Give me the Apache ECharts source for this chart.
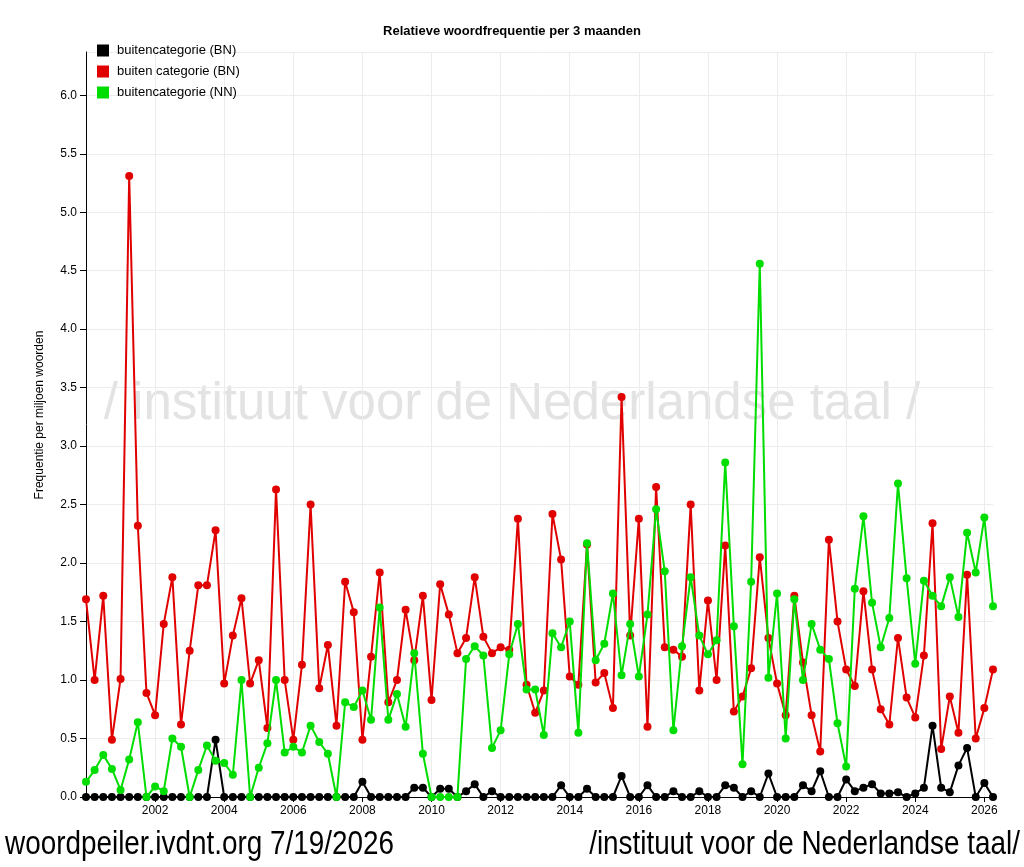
<!DOCTYPE html>
<html>
<head>
<meta charset="utf-8">
<script src="https://cdn.jsdelivr.net/npm/echarts@6/dist/echarts.min.js"></script>
<style>
html,body{margin:0;padding:0;background:#fff;}
#chart{width:1024px;height:867px;}
</style>
</head>
<body>
<div id="chart"></div>
<script>
// Quarters 2000-Q1 .. 2026-Q2
const startYear = 2000;
const quarterCount = 106;
const quarters = [];
for (let i = 0; i < quarterCount; i++) {
  quarters.push((startYear + Math.floor(i / 4)) + '-Q' + (i % 4 + 1));
}

const seriesNames = ['buitencategorie (BN)', 'buiten categorie (BN)', 'buitencategorie (NN)'];

const blackBN = [
  0,0,0,0,0,0,0,0, 0,0,0,0,0,0,0,0.49,
  0,0,0,0,0,0,0,0, 0,0,0,0,0,0,0,0,
  0.13,0,0,0,0,0,0.08,0.08, 0,0.07,0.07,0,0.05,0.11,0,0.05,
  0,0,0,0,0,0,0,0.10, 0,0,0.07,0,0,0,0.18,0,
  0,0.10,0,0,0.05,0,0,0.05, 0,0,0.10,0.08,0,0.05,0,0.20,
  0,0,0,0.10,0.05,0.22,0,0, 0.15,0.05,0.08,0.11,0.03,0.03,0.04,0,
  0.03,0.08,0.61,0.08,0.04,0.27,0.42,0, 0.12,0
];

const redBN = [
  1.69,1.00,1.72,0.49,1.01,5.31,2.32,0.89, 0.70,1.48,1.88,0.62,1.25,1.81,1.81,2.28,
  0.97,1.38,1.70,0.97,1.17,0.59,2.63,1.00, 0.49,1.13,2.50,0.93,1.30,0.61,1.84,1.58,
  0.49,1.20,1.92,0.81,1.00,1.60,1.17,1.72, 0.83,1.82,1.56,1.23,1.36,1.88,1.37,1.23,
  1.28,1.26,2.38,0.96,0.72,0.91,2.42,2.03, 1.03,0.96,2.16,0.98,1.06,0.76,3.42,1.38,
  2.38,0.60,2.65,1.28,1.26,1.20,2.50,0.91, 1.68,1.00,2.15,0.73,0.86,1.10,2.05,1.36,
  0.97,0.70,1.72,1.15,0.70,0.39,2.20,1.50, 1.09,0.95,1.76,1.09,0.75,0.62,1.36,0.85,
  0.68,1.21,2.34,0.41,0.86,0.55,1.90,0.50, 0.76,1.09
];

const greenNN = [
  0.13,0.23,0.36,0.24,0.06,0.32,0.64,0, 0.09,0.05,0.50,0.43,0,0.23,0.44,0.31,
  0.29,0.19,1.00,0,0.25,0.46,1.00,0.38, 0.43,0.38,0.61,0.47,0.37,0,0.81,0.77,
  0.91,0.66,1.62,0.66,0.88,0.60,1.23,0.37, 0,0,0,0,1.18,1.29,1.21,0.42,
  0.57,1.22,1.48,0.92,0.92,0.53,1.40,1.28, 1.50,0.55,2.17,1.17,1.31,1.74,1.04,1.48,
  1.03,1.56,2.46,1.93,0.57,1.29,1.88,1.38, 1.22,1.34,2.86,1.46,0.28,1.84,4.56,1.02,
  1.74,0.50,1.69,1.00,1.48,1.26,1.18,0.63, 0.26,1.78,2.40,1.66,1.28,1.53,2.68,1.87,
  1.14,1.85,1.72,1.63,1.88,1.54,2.26,1.92, 2.39,1.63
];

const yTicks = { min: 0, max: 6.37, step: 0.5 };
const colors = ['#000000', '#e00000', '#00dd00'];

function isTickIndex(i) {
  const y = startYear + Math.floor(i / 4);
  return i % 4 === 0 && y % 2 === 0 && y > startYear;
}

const chart = echarts.init(document.getElementById('chart'), null, { renderer: 'canvas' });
const FONT = '"Liberation Sans", Arial, sans-serif';

const series = [blackBN, redBN, greenNN].map((d, k) => ({
  name: seriesNames[k],
  type: 'line',
  data: d,
  symbol: 'circle',
  symbolSize: 8,
  showSymbol: true,
  showAllSymbol: true,
  color: colors[k],
  lineStyle: { width: 2, color: colors[k] },
  itemStyle: { color: colors[k] },
  z: 3 + k,
  animation: false
}));

chart.setOption({
  animation: false,
  backgroundColor: '#ffffff',
  textStyle: { fontFamily: FONT },
  title: {
    text: 'Relatieve woordfrequentie per 3 maanden',
    left: 'center',
    top: 20,
    textStyle: { fontSize: 13, fontWeight: 'bold', color: '#000', fontFamily: FONT }
  },
  legend: {
    orient: 'vertical',
    left: 92,
    top: 39,
    itemWidth: 12,
    itemHeight: 12,
    itemGap: 8,
    icon: 'rect',
    data: seriesNames,
    textStyle: { fontSize: 13, color: '#000', fontFamily: FONT, padding: [0, 0, 0, 3] }
  },
  grid: { left: 86, right: 31, top: 52, bottom: 70, containLabel: false },
  xAxis: {
    type: 'category',
    data: quarters,
    boundaryGap: false,
    axisLine: { lineStyle: { color: '#000', width: 1 } },
    axisTick: { show: true, interval: (i) => isTickIndex(i), length: 5, lineStyle: { color: '#000' } },
    axisLabel: {
      interval: (i) => isTickIndex(i),
      formatter: (v) => v.slice(0, 4),
      fontSize: 12, color: '#000', margin: 8, fontFamily: FONT
    },
    splitLine: { show: true, interval: (i) => isTickIndex(i), lineStyle: { color: '#ececec', width: 1 } }
  },
  yAxis: {
    type: 'value',
    min: yTicks.min,
    max: yTicks.max,
    interval: yTicks.step,
    axisLine: { show: true, lineStyle: { color: '#000', width: 1 } },
    axisTick: { show: true, length: 6, lineStyle: { color: '#000' } },
    axisLabel: {
      formatter: (v) => v.toFixed(1), fontSize: 12, color: '#000', margin: 9,
      showMaxLabel: false, fontFamily: FONT
    },
    splitLine: { show: true, lineStyle: { color: '#ececec', width: 1 } }
  },
  graphic: [
    {
      type: 'text', z: 0, zlevel: 0, silent: true,
      x: 512, y: 405,
      style: {
        text: '/ instituut voor de Nederlandse taal /',
        font: '51px ' + FONT,
        fill: '#e3e3e3',
        textAlign: 'center', textVerticalAlign: 'middle'
      }
    },
    {
      type: 'text', silent: true,
      x: 40, y: 415, rotation: Math.PI / 2,
      style: {
        text: 'Frequentie per miljoen woorden',
        font: '12px ' + FONT, fill: '#000',
        textAlign: 'center', textVerticalAlign: 'middle'
      }
    },
    {
      type: 'text', silent: true,
      x: 5, y: 845, scaleX: 0.82,
      style: {
        text: 'woordpeiler.ivdnt.org 7/19/2026',
        font: '34px ' + FONT, fill: '#000',
        textAlign: 'left', textVerticalAlign: 'middle'
      }
    },
    {
      type: 'text', silent: true,
      x: 1020, y: 845, scaleX: 0.82,
      style: {
        text: '/instituut voor de Nederlandse taal/',
        font: '34px ' + FONT, fill: '#000',
        textAlign: 'right', textVerticalAlign: 'middle'
      }
    }
  ],
  series: series
});
</script>
</body>
</html>
